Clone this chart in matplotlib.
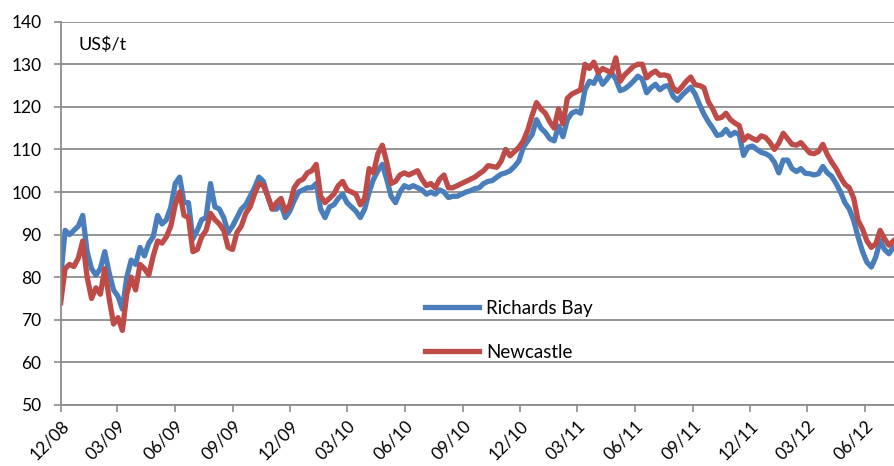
import pandas as pd
import matplotlib
matplotlib.use("Agg")
import matplotlib.pyplot as plt

plt.rcParams['font.family'] = ['Lato', 'DejaVu Sans']

# weekly prices, US$/t
dates = pd.date_range('2008-12-01', periods=190, freq='7D')

richards_bay = [
    80, 91, 90, 91, 92, 94.5, 86, 82, 80.5, 82, 86, 81, 77, 75.5, 72.5, 80,
    84, 83, 87, 85, 88, 89.5, 94.5, 92.5, 93.5, 96.5, 102, 103.5, 97.5, 97.5,
    89, 91, 93.5, 94, 102, 96.5, 96, 94, 90.5, 92, 94, 96, 97, 99, 101, 103.5,
    102.5, 99, 96, 96, 97, 94, 95.5, 98, 100, 100.5, 101, 101, 102, 96, 94,
    96.5, 97, 98.5, 99.5, 97.5, 96.5, 95.5, 94, 96, 100, 103, 105, 106.5, 103,
    99, 97.5, 100, 101.5, 101, 101.5, 101, 100.5, 99.5, 100, 99.5, 100.5, 100,
    98.7, 99, 99, 99.5, 100, 100.3, 100.8, 101, 102, 102.5, 102.7, 103.5, 104.2,
    104.5, 105, 106, 107.3, 110.5, 112, 113.5, 117, 115, 114, 112.5, 112, 115.5,
    113, 117, 118.5, 119, 118.5, 124, 126, 125.5, 127.5, 125.3, 126.5, 128,
    126.5, 123.8, 124.2, 125, 126, 127.2, 126.5, 123.3, 124.5, 125.3, 124,
    124.8, 125, 122.5, 121.5, 122.7, 123.7, 124.6, 123, 120.5, 118.3, 116.5,
    115, 113.3, 113.5, 114.7, 113.3, 114, 113.5, 108.6, 110.5, 110.8, 110,
    109.3, 109, 108.4, 107, 104.5, 107.5, 107.5, 105.5, 104.8, 105.5, 104.4,
    104.3, 104, 104.3, 106, 104.5, 103.7, 102, 100, 97.5, 96, 93.3, 89.4, 86,
    83.5, 82.4, 84.7, 88.6, 86.5, 85.5, 87,
]

newcastle = [
    74, 82, 83, 82.5, 84.5, 88.5, 80, 75, 77.5, 76, 82, 75, 69, 70.5, 67.5, 76,
    80, 77, 83, 82, 80.5, 85, 88.5, 88, 89.5, 92, 97, 100, 94.5, 94,
    86, 86.5, 89.5, 91, 95, 93.5, 92.5, 91, 87, 86.5, 90.5, 92, 95, 96.5, 99.5,
    102, 101.5, 99, 96, 97.5, 98.5, 95.5, 97, 101, 102.5, 103, 104.5, 105,
    106.5, 99, 97.5, 98.5, 99.5, 101.5, 102.5, 100.5, 100, 99.5, 97, 98.5,
    105.5, 104.5, 109, 111, 107, 102, 102.5, 104, 104.5, 104, 104.5, 105, 103,
    101.5, 102, 101, 103, 104, 101, 101, 101.5, 102, 102.5, 103, 103.5, 104.3,
    105, 106.2, 106, 105.8, 107.3, 110, 108.5, 109.5, 110.5, 112, 114.5, 118,
    121, 119.5, 118.5, 116.5, 115, 119.5, 116, 122, 123, 123.5, 124, 130, 129,
    130.5, 128, 129, 128.5, 128, 131.5, 126, 127.5, 128.5, 129.5, 130, 130,
    126.8, 127.8, 128.4, 127.4, 127.5, 127.2, 124.5, 123.6, 124.7, 126, 127,
    125.2, 125, 124.5, 121.2, 119.5, 117.3, 117.5, 118.5, 117, 116.2, 115.6,
    112.1, 113.2, 112.6, 112.1, 113.2, 112.8, 111.6, 110, 111.5, 113.8, 112.5,
    111.2, 111, 111.6, 110.4, 109.2, 109, 109.5, 111.2, 108.8, 107, 105.5,
    103.5, 101.8, 101, 98.5, 93.3, 91.3, 88.5, 87, 87.8, 91, 89, 87.5, 88.5,
]

tick_dates = pd.date_range('2008-12-01', '2012-06-01', freq='3MS')
tick_labels = [d.strftime('%m/%y') for d in tick_dates]

fig = plt.figure(figsize=(8.94, 4.66), dpi=100)
ax = fig.add_axes([0.0679, 0.131, 0.9321, 0.8225])

grid_col = '#8c8c8c'
ax.plot(dates, richards_bay, color='#4a7ebb', lw=3.8, label='Richards Bay',
        solid_joinstyle='round')
ax.plot(dates, newcastle, color='#be4b48', lw=3.8, label='Newcastle',
        solid_joinstyle='round')

ax.set_ylim(50, 140)
ax.set_yticks(range(50, 141, 10))
ax.set_xlim(pd.Timestamp('2008-12-01'), pd.Timestamp('2012-07-17'))
ax.set_xticks(tick_dates)
ax.set_xticklabels(tick_labels, rotation=45, ha='right', rotation_mode='anchor')

ax.grid(axis='y', color=grid_col, lw=1.3)
ax.set_axisbelow(True)
for s in ['top', 'right']:
    ax.spines[s].set_visible(False)
for s in ['left', 'bottom']:
    ax.spines[s].set_color(grid_col)
    ax.spines[s].set_linewidth(1.3)
ax.tick_params(axis='both', colors=grid_col, length=5, width=1.2,
               labelcolor='black', labelsize=12.5)
ax.tick_params(axis='y', pad=9)
ax.tick_params(axis='x', pad=4)

ax.text(0.021, 0.939, 'US$/t', transform=ax.transAxes, fontsize=13,
        va='center', ha='left')

ax.legend(loc='upper left', bbox_to_anchor=(425 / 894, 1 - 300 / 466),
          bbox_transform=fig.transFigure, frameon=False, fontsize=13.5,
          handlelength=2.9, handletextpad=0.35, labelspacing=1.42,
          borderpad=0, borderaxespad=0)

fig.savefig('out.png', dpi=100)
